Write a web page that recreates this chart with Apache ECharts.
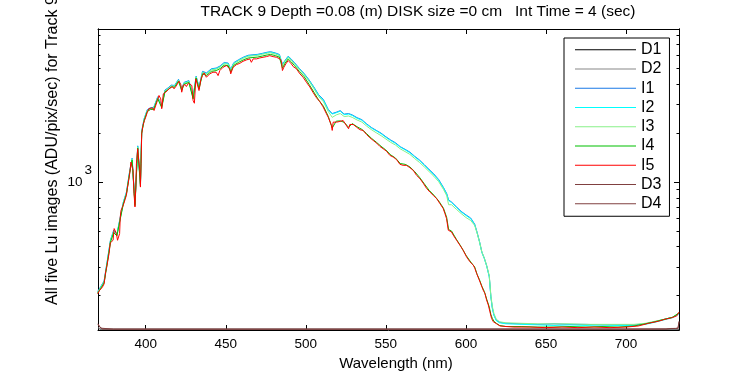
<!DOCTYPE html>
<html>
<head>
<meta charset="utf-8">
<script src="https://cdn.jsdelivr.net/npm/echarts@6/dist/echarts.min.js"></script>
<style>html,body{margin:0;padding:0;background:#fff}#c{width:750px;height:375px}</style>
</head>
<body>
<div id="c"></div>
<script>
// ---- data ----
const seriesNames = ['D1','D2','I1','I2','I3','I4','I5','D3','D4'];
const xTickValues = [400,450,500,550,600,650,700];
const yMajorTicks = [1000];
const yMinorTicksLeft = [200,300,400,500,600,700,800,2000,3000,4000,5000,6000,7000,8000];
const yMinorTicksRight = [200,300,400,500,600,700,800,900,2000,3000,4000,5000,6000,7000,8000];

// dark frames
const wlD = [370.2,371,372,373,380,450,550,650,700,725,728,731,732.5,733.1];
const D1 = [126,125,124,124,124,124,124,124,124,124,124,124,124,124];
const D2 = [127,125,124,124,124,124,124,124,124,124,124,124,124,125];
const D3 = [134,130,126,124.5,124.3,124.3,124.3,124.3,124.3,124.5,125.5,125.5,126,139];
const D4 = [133,129,125.5,124.5,124.3,124.3,124.3,124.3,124.3,124.5,125.3,125.6,126,137];

// coarse grid for I1..I4
const wlI = [370,372,374,376,378,380,382,384,386,388,390,391.5,393.3,395,396.7,397.5,399,401,403,405,407.5,410,412,414,416,418,420.5,422.5,424,427,429.6,431.5,433.3,435.5,438,441,444,446.5,449,451.5,453.1,455,458,461,464,467,470,473,476,478,481,483.5,485.4,487,489,491,493,496,499,502,505,508,511,514,516.5,519,521.5,524,526.7,529,532,535,538,541,544,547,550,553,556,559,562,565,568,571,574,577,580,583,586,588,589.2,591,594,597,600,603,605.5,607,608.5,610,611.5,613,614.6,615.6,616.5,617.5,619,621,625,635,645,655,665,675,685,695,705,712,718,724,729,733];
const I1 = [212,228,246,328,440,505,478,600,750,870,1170,1400,740,1670,980,2060,2450,2790,2870,2880,3350,2950,3680,3800,3950,3930,4290,3750,4110,4210,3350,4480,3850,4800,4700,4980,5030,5180,5440,5400,4950,5430,5660,5870,6030,6070,6110,6200,6300,6340,6230,6100,5300,5600,5950,5700,5420,5000,4650,4260,3850,3450,3220,2800,2640,2690,2750,2620,2640,2590,2490,2420,2280,2165,2080,2000,1900,1815,1745,1650,1590,1528,1440,1367,1280,1195,1120,1035,925,849,775,754,705,660,628,600,550,490,430,370,340,305,262,197,168,152,141,137,135,134,133,134,133,133,132,132,132,134,138,143,147,155];
const I2 = [210,226,244,325,436,500,474,595,745,862,1160,1390,735,1655,970,2045,2430,2770,2850,2860,3320,2930,3650,3770,3920,3900,4260,3720,4080,4180,3320,4450,3820,4760,4660,4940,4990,5140,5400,5360,4910,5390,5620,5830,5990,6030,6070,6160,6260,6300,6190,6060,5270,5560,5910,5660,5380,4970,4620,4230,3820,3420,3190,2780,2620,2670,2730,2600,2620,2570,2470,2400,2265,2150,2065,1985,1885,1800,1730,1640,1580,1515,1430,1355,1270,1185,1110,1025,918,842,770,748,700,655,623,595,546,486,427,367,337,303,260,196,167,151,140,136,134,133,132,131,132,131,132,131,131,133,137,142,146,154];
const I3 = [209,225,242,322,432,495,470,590,740,855,1150,1380,728,1640,960,2030,2415,2750,2830,2840,3300,2910,3630,3750,3900,3880,4230,3700,4050,4150,3300,4420,3790,4720,4620,4900,4950,5100,5350,5310,4870,5340,5570,5780,5940,5980,6020,6110,6200,6240,6130,6000,5200,5510,5850,5610,5330,4920,4570,4180,3760,3360,3120,2720,2500,2590,2640,2530,2550,2500,2410,2340,2210,2100,2010,1930,1840,1755,1690,1600,1540,1480,1395,1320,1240,1160,1085,1005,900,825,725,725,680,640,605,580,540,485,428,370,340,305,265,200,172,155,143,138,136,135,134,134,134,133,133,133,133,135,139,143,147,156];
const I4 = [207,222,239,318,427,488,466,585,730,845,1140,1365,715,1620,945,2005,2385,2720,2795,2805,3260,2870,3590,3700,3850,3830,4180,3650,4000,4100,3250,4370,3740,4630,4530,4800,4850,4990,5240,5200,4760,5230,5450,5650,5800,5840,5880,5970,6060,6100,6000,5870,5020,5380,5720,5480,5200,4790,4450,4000,3580,3200,2930,2540,2150,2370,2380,2330,2170,2290,2190,2110,1985,1860,1760,1660,1575,1470,1405,1300,1285,1240,1160,1070,975,890,830,765,690,605,510,500,445,400,355,322,300,270,250,228,212,190,170,153,145,139,135,131,129,129,128,128,129,128,129,128,130,134,138,143,147,156];

// fine grid for I5 (drawn on top)
const wl5 = [370,371,372,373,374,375,375.6,376.4,377.1,377.9,378.8,379.6,380.3,380.9,381.7,382.4,382.9,383.7,384.1,384.6,385.4,386.3,387.1,387.9,388.5,389.2,390,390.8,391.5,392.1,392.7,393.3,393.8,394.2,395,395.6,396.3,396.7,397.1,397.5,398.3,399.2,400,401,402,403,404.2,405.2,406.3,407.3,408.3,409.4,410,411,412.5,413.5,414.6,415.6,416.7,417.7,418.8,419.8,420.8,421.9,422.5,423.3,424.6,425.4,426.7,427.7,428.8,429.6,430.4,431.3,432.3,433.3,434.4,435.4,436.5,437.9,440,442,444,445.2,446.3,448.3,450.4,452.5,453.1,454.6,456.7,458.8,460.8,462.9,465,466,467.1,469.2,471.3,473.3,475.4,477.5,479.6,481.7,483.8,484.8,485.4,486.3,487.5,489,490,491,492.1,494.2,496.3,498.3,500.4,502.5,504.6,506.7,508.8,510.8,512.9,514,515,516,516.5,517.1,518.1,519.2,520.2,521.3,522.3,523.3,524.4,525.4,526.7,527.5,528.5,529.6,531.7,532.7,533.8,535.8,537.9,540,542.1,544.2,546.3,548.3,550.4,552.5,554.6,556.7,558.8,560.8,562.9,565,567.1,569.2,571.3,573.3,575.4,577.5,579.6,581.7,583.8,585.8,586.9,587.9,589,590,591,592.1,594.2,596.3,598.3,600.4,602.5,604.6,605.6,606.7,608.8,610.8,611.9,612.9,614,615,616,617.1,619.2,621.3,625,630,640,650,660,670,680,690,700,707.7,714,720.2,724.4,728.5,731.7,733];
const I5 = [205,214,220,226,236,280,298,331,363,422,422,438,517,529,482,438,428,482,610,670,697,736,780,828,910,1000,1127,1327,1346,1180,849,702,931,1297,1603,1359,1180,931,1297,1983,2230,2393,2507,2691,2825,2756,2865,2756,2786,3177,3410,3251,2825,3490,3573,3573,3748,3690,3871,3748,3871,4020,4170,3983,3573,3926,3983,3871,4057,4020,3926,3177,3055,4317,4214,3657,4256,4520,4700,4416,4634,4742,4742,4520,4856,5086,5210,4973,4634,5086,5284,5382,5536,5644,5728,5458,5728,5728,5808,5861,5916,5998,5916,5861,5728,5536,4856,5086,5335,5595,5458,5335,5140,4973,4634,4416,4111,3850,3550,3300,3120,2900,2630,2507,2450,2230,2078,2337,2371,2337,2393,2360,2337,2393,2303,2261,2128,2261,2303,2261,2177,2128,2099,2078,1963,1874,1803,1737,1656,1603,1549,1459,1425,1374,1285,1267,1267,1225,1180,1099,1049,985,915,868,828,791,736,687,640,596,505,505,493,471,438,408,380,346,323,308,294,274,243,216,206,188,175,159,145,138,134,130,129,128,128,127,128,127,128,127,128,130,135,139,143,146,150,158];

const colors = {D1:'#000000',D2:'#888888',I1:'#1a78e6',I2:'#00ffff',I3:'#88f088',I4:'#00c000',I5:'#ff0000',D3:'#804040',D4:'#804040'};
const titleText = 'TRACK 9 Depth =0.08 (m) DISK size =0 cm   Int Time = 4 (sec)';
const xName = 'Wavelength (nm)';
const yName = 'All five Lu images (ADU/pix/sec) for Track 9';

// ---- build ----
const FONT = '"Liberation Sans", Arial, Helvetica, sans-serif';
function zip(xs, ys){ return xs.map((x,i)=>[x, ys[i]]); }
const seriesData = {
  D1: zip(wlD, D1), D2: zip(wlD, D2), I1: zip(wlI, I1), I2: zip(wlI, I2),
  I3: zip(wlI, I3), I4: zip(wlI, I4), I5: zip(wl5, I5), D3: zip(wlD, D3), D4: zip(wlD, D4)
};
const XMIN = 370.2, XMAX = 733.1, YMIN = 122.8, YMAX = 8750;

function xAx(pos, labels){
  return {
    type:'value', position:pos, min:XMIN, max:XMAX, splitLine:{show:false},
    axisLine:{show:true, onZero:false, lineStyle:{color:'#000', width:1}},
    axisTick:{show:true, inside:true, length:5, customValues:xTickValues, lineStyle:{color:'#000'}},
    axisLabel:{show:labels, customValues:xTickValues, color:'#000', fontSize:13.5, fontFamily:FONT, margin:7},
  };
}
function yAx(pos, ticks, len, labels){
  return {
    type:'log', logBase:10, position:pos, min:YMIN, max:YMAX, splitLine:{show:false},
    axisLine:{show:true, onZero:false, lineStyle:{color:'#000', width:1}},
    axisTick:{show:true, inside:true, length:len, customValues:ticks, lineStyle:{color:'#000'}},
    axisLabel:{show:labels, customValues:yMajorTicks, margin:6,
      formatter: function(){ return '{a|10}{b|3}'; },
      rich:{ a:{fontSize:13.5, fontFamily:FONT, color:'#000', lineHeight:38, verticalAlign:'middle'},
             b:{fontSize:13.5, fontFamily:FONT, color:'#000', lineHeight:13, verticalAlign:'top', padding:[0,0,0,2]} }
    },
  };
}

const option = {
  animation:false,
  backgroundColor:'#fff',
  grid:{left:98, top:29, width:581, height:301, containLabel:false},
  xAxis:[ xAx('bottom', true), xAx('top', false) ],
  yAxis:[ yAx('left', yMajorTicks, 5, true), yAx('left', yMinorTicksLeft, 2.5, false),
          yAx('right', yMajorTicks, 5, false), yAx('right', yMinorTicksRight, 2.5, false) ],
  legend:{
    data: seriesNames, orient:'vertical', left:564, top:38, padding:[2,8,3,11],
    itemGap:0, itemWidth:61, itemHeight:1, icon:'rect',
    backgroundColor:'#fff', borderColor:'#000', borderWidth:1, borderRadius:0,
    textStyle:{fontSize:16, fontFamily:FONT, color:'#000', lineHeight:19.25}, selectedMode:false
  },
  graphic:[
    {type:'text', x:418, y:11.5, style:{text:titleText, fontSize:15.5, fontFamily:FONT, fill:'#000', align:'center', verticalAlign:'middle'}},
    {type:'text', x:396, y:364, style:{text:xName, fontSize:15, fontFamily:FONT, fill:'#000', align:'center', verticalAlign:'middle'}},
    {type:'text', x:53, y:305, rotation:Math.PI/2, style:{text:yName, fontSize:16, fontFamily:FONT, fill:'#000', align:'left', verticalAlign:'middle'}}
  ],
  series: seriesNames.map(n => ({
    name:n, type:'line', data:seriesData[n], showSymbol:false, symbol:'none',
    lineStyle:{color:colors[n], width:1}, itemStyle:{color:colors[n]},
    xAxisIndex:0, yAxisIndex:0, silent:true, clip:true
  }))
};
const chart = echarts.init(document.getElementById('c'), null, {renderer:'canvas'});
chart.setOption(option);
</script>
</body>
</html>
